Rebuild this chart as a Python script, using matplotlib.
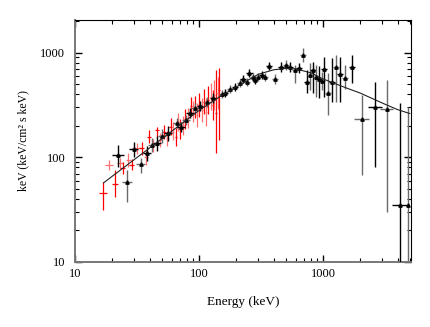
import matplotlib
matplotlib.use("Agg")
import matplotlib.pyplot as plt
from matplotlib.ticker import LogLocator, NullFormatter, FixedLocator, FixedFormatter

# ---- model curve ----
model_E = [17, 20, 30, 50, 70, 100, 150, 200, 300, 400, 500, 600, 800, 1000, 1500, 2000, 3000, 4000, 5000]
model_F = [57, 66, 95, 150, 203, 280, 385, 470, 620, 685, 705, 700, 640, 560, 465, 410, 330, 285, 262]

# ---- black data points ----
bE = [22.3, 26.1, 29.9, 33.9, 37.9, 41.5, 45.6, 50, 56.5, 66, 71.2, 78.5, 84.6, 92.9, 102, 115, 130, 152, 162, 178,
      195, 214, 228, 243, 255, 271, 283, 301, 320, 341, 367, 410, 456, 504, 542, 595, 644, 694, 739, 786,
      826, 879, 934, 977, 1026, 1092, 1175, 1273, 1371, 1503, 1702, 2049, 2626, 3265, 4180, 4840]
bF = [105, 58.5, 120, 86.3, 109, 131, 136, 160, 169, 211, 196, 227, 267, 294, 309, 340, 368, 400, 408, 446,
      472, 509, 556, 528, 643, 581, 547, 589, 611, 589, 745, 556, 724, 762, 724, 683, 708, 948, 528, 611,
      683, 589, 556, 539, 692, 414, 528, 733, 625, 569, 724, 231, 304, 287, 35, 35]
bF_lo = [80.7, 37.7, 101, 70.8, 93, 112, 116, 137, 144, 189, 176, 203, 239, 263, 277, 305, 330, 366, 374, 408,
         432, 466, 509, 484, 589, 532, 501, 539, 560, 539, 682, 497, 648, 682, 648, 509, 634, 818, 408, 440,
         408, 379, 366, 440, 379, 253, 340, 340, 340, 445, 509, 67.8, 81.3, 30.2, 5, 5]
bF_hi = [131, 75.7, 141, 98.5, 128, 153, 159, 187, 198, 235, 219, 253, 298, 328, 345, 379, 411, 437, 446, 487,
         515, 556, 607, 577, 702, 634, 597, 643, 667, 643, 814, 622, 809, 851, 809, 763, 791, 1106, 682, 791,
         818, 762, 745, 650, 914, 634, 883, 948, 914, 760, 948, 394, 527, 547, 330, 300]
bE_lo = [20.0, 23.8, 27.5, 31.3, 35.2, 38.5, 42.3, 46.4, 52.5, 61.3, 66.1, 73.0, 78.6, 86.3, 96.5, 109, 123, 144, 153, 168,
         184, 202, 216, 230, 241, 256, 268, 285, 303, 323, 347, 388, 431, 477, 513, 563, 609, 656, 699, 744,
         781, 832, 884, 924, 971, 1033, 1112, 1204, 1297, 1422, 1610, 1778, 2307, 2900, 3580, 4840]
bE_hi = [24.9, 28.6, 32.5, 36.7, 40.8, 44.7, 49.1, 53.9, 60.8, 71.1, 76.7, 84.5, 91.1, 100, 108, 122, 137, 161, 171, 188,
         206, 226, 241, 257, 270, 286, 299, 318, 338, 360, 388, 433, 482, 533, 573, 629, 681, 734, 781, 831,
         873, 929, 987, 1033, 1085, 1154, 1242, 1346, 1449, 1589, 1799, 2360, 2992, 3650, 4876, 4840]

# ---- red data points ----
rE = [16.9, 18.9, 21.0, 23.1, 24.2, 26.9, 28.7, 31.8, 34.5, 37.4, 39.7, 42.4, 45.6, 48.4, 52.2, 55.5, 59.1, 62.1, 64.9, 67.3,
      70.3, 73.9, 77.1, 82.0, 85.7, 89.0, 92.9, 96.9, 100, 105, 110, 114, 119, 124, 129, 133, 137, 141, 145]
rF = [45.3, 84.3, 55.2, 87.7, 78.5, 94.2, 84.3, 122, 122, 101, 157, 131, 182, 146, 176, 152, 196, 176, 155, 219,
      185, 203, 231, 236, 309, 273, 300, 253, 316, 283, 340, 273, 352, 379, 316, 394, 263, 408, 440]
rF_lo = [31.4, 75.7, 42, 78.5, 70, 81.6, 75, 108, 105, 84.3, 136, 112, 157, 125, 150, 128, 165, 145, 128, 180,
         150, 165, 185, 190, 250, 215, 235, 195, 245, 215, 260, 200, 260, 280, 225, 285, 109, 290, 146]
rF_hi = [58.5, 94.2, 75.7, 97.8, 90, 109, 96, 137, 140, 117, 182, 150, 196, 170, 205, 180, 235, 215, 190, 265,
         230, 250, 290, 295, 380, 345, 385, 330, 410, 370, 445, 370, 475, 510, 440, 545, 684, 580, 705]
r_xfrac = [0.07, 0.07, 0.06, 0.06, 0.05, 0.05, 0.05, 0.09, 0.05, 0.04, 0.04, 0.04, 0.04, 0.03, 0.03, 0.03, 0.03, 0.02, 0.02, 0.02,
           0.02, 0.02, 0.02, 0.02, 0.02, 0.02, 0.02, 0.02, 0.02, 0.02, 0.02, 0.02, 0.02, 0.02, 0.02, 0.02, 0.02, 0.02, 0.02]

x_ticks = [10, 100, 1000]
x_labels = ["10", "100", "1000"]
y_ticks = [10, 100, 1000]
y_labels = ["10", "100", "1000"]

plt.rcParams['font.family'] = ['Liberation Serif', 'DejaVu Serif']

fig = plt.figure(figsize=(4.30, 3.27), dpi=100)
ax = fig.add_axes([75 / 430, 65 / 327, 335.7 / 430, 242 / 327])
ax.set_xscale('log')
ax.set_yscale('log')
ax.set_xlim(10, 5093)
ax.set_ylim(10, 2047)

# red points
for i in range(len(rE)):
    col = '#ff0000' if i % 2 == 0 else '#ff7070'
    ax.errorbar([rE[i]], [rF[i]],
                yerr=[[rF[i] - rF_lo[i]], [rF_hi[i] - rF[i]]],
                xerr=[[rE[i] * r_xfrac[i]], [rE[i] * r_xfrac[i]]],
                fmt='none', ecolor=col, elinewidth=0.9, capsize=0, zorder=2)

# black points
for i in range(len(bE)):
    col = '#000000' if i % 2 == 0 else '#6a6a6a'
    ax.errorbar([bE[i]], [bF[i]],
                yerr=[[bF[i] - bF_lo[i]], [bF_hi[i] - bF[i]]],
                xerr=[[bE[i] - bE_lo[i]], [bE_hi[i] - bE[i]]],
                fmt='none', ecolor=col, elinewidth=1.0, capsize=0, zorder=3)
ax.plot(bE, bF, linestyle='none', marker='^', markersize=2.4, color='black', zorder=4)

# model
ax.plot(model_E, model_F, color='#222222', linewidth=0.8, zorder=5)

# ticks
ax.xaxis.set_major_locator(FixedLocator(x_ticks))
ax.xaxis.set_major_formatter(FixedFormatter(x_labels))
ax.yaxis.set_major_locator(FixedLocator(y_ticks))
ax.yaxis.set_major_formatter(FixedFormatter(y_labels))
ax.xaxis.set_minor_locator(LogLocator(base=10, subs=range(2, 10)))
ax.yaxis.set_minor_locator(LogLocator(base=10, subs=range(2, 10)))
ax.xaxis.set_minor_formatter(NullFormatter())
ax.yaxis.set_minor_formatter(NullFormatter())
ax.tick_params(which='both', direction='in', top=True, right=True, labelsize=9, colors='black')
ax.tick_params(axis='y', pad=7)
ax.tick_params(axis='x', pad=4)
ax.tick_params(which='major', length=5, width=1.0)
ax.tick_params(which='minor', length=3, width=0.8)

for s in ['left', 'bottom']:
    ax.spines[s].set_color('#777777')
    ax.spines[s].set_linewidth(1.4)
for s in ['top', 'right']:
    ax.spines[s].set_color('black')
    ax.spines[s].set_linewidth(0.8)

ax.set_xlabel('Energy (keV)', fontsize=9.5, labelpad=12)
ax.set_ylabel('keV (keV/cm² s keV)', fontsize=8.5, labelpad=8)

fig.savefig('out.png', dpi=100)
